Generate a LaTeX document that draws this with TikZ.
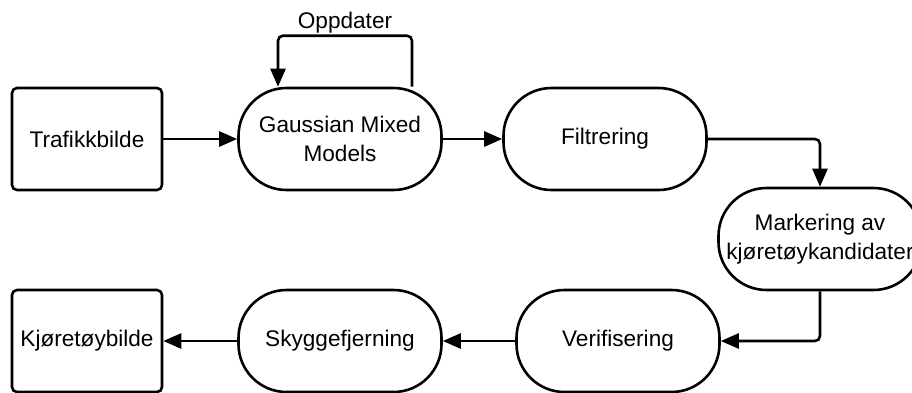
\documentclass[tikz,border=0pt]{standalone}
\usepackage{fontspec}
\setmainfont{Liberation Sans}
\usetikzlibrary{arrows.meta,calc}

\tikzset{
    boks/.style={draw, line width=1.3pt, rounded corners=2.5pt,
        minimum width=75pt, minimum height=51pt, align=center},
    prosess/.style={draw, line width=1.3pt, rounded corners=24pt,
        minimum width=101.5pt, minimum height=51pt, align=center},
    pil/.style={-{Triangle[length=9pt,width=7.5pt]}, line width=1.3pt, rounded corners=2.5pt}
}

\begin{document}
\begin{tikzpicture}[x=0.5pt, y=-0.5pt, font=\fontsize{11.3}{14.5}\selectfont]
    \useasboundingbox (0,0) rectangle (912,392);
    % --- top row ---
    \node[boks]    (trafikk) at (87,139)  {Trafikkbilde};
    \node[prosess] (gmm)     at (340,139) {Gaussian Mixed\\Models};
    \node[prosess] (filter)  at (605,139) {Filtrering};
    % --- right column ---
    \node[prosess] (marker)  at (820,239) {Markering av\\kjøretøykandidater};
    % --- bottom row ---
    \node[prosess] (verif)   at (618,341) {Verifisering};
    \node[prosess] (skygge)  at (340,341) {Skyggefjerning};
    \node[boks]    (kjoretoy) at (87,341) {Kjøretøybilde};
    % --- update loop on the model ---
    \coordinate (loopUt) at ($(gmm.north)+(72,0)$);
    \coordinate (loopInn) at ($(gmm.north)+(-62,0)$);
    \draw[pil] (loopUt) -- ++(0,-51) -| node[pos=0.25, above=-2.5pt] (oppdater) {Oppdater} (loopInn);
    % --- flow ---
    \draw[pil] (trafikk) -- (gmm);
    \draw[pil] (gmm) -- (filter);
    \draw[pil] (filter.east) -| (marker.north);
    \draw[pil] (marker.south) |- (verif.east);
    \draw[pil] (verif) -- (skygge);
    \draw[pil] (skygge) -- (kjoretoy);
\end{tikzpicture}
\end{document}
